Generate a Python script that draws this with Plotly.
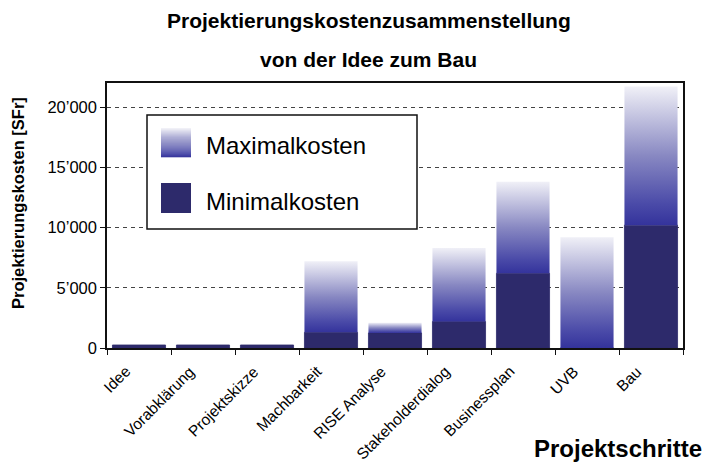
import plotly.graph_objects as go
from plotly.colors import sample_colorscale

categories = ["Idee", "Vorabklärung", "Projektskizze", "Machbarkeit", "RISE Analyse",
              "Stakeholderdialog", "Businessplan", "UVB", "Bau"]
min_cost = [250, 250, 250, 1300, 1250, 2200, 6200, 0, 10200]
max_cost = [250, 250, 250, 7200, 2100, 8300, 13800, 9200, 21700]
y_ticks = [0, 5000, 10000, 15000, 20000]

FONT = "Liberation Sans, Arial, Helvetica, sans-serif"
DARK = "#2d2a6b"
GRAD = [[0.0, "#34339c"], [0.15, "#4a4aa8"], [0.5, "#8888c2"], [1.0, "#f0f0f7"]]
BAR_W = 0.83

xs = list(range(len(categories)))
fig = go.Figure()

fig.add_trace(go.Bar(x=xs, y=min_cost, width=BAR_W, marker=dict(color=DARK, line=dict(width=0.8, color=DARK)),
                     name="Minimalkosten", showlegend=False, hoverinfo="skip"))

for i, (lo, hi) in enumerate(zip(min_cost, max_cost)):
    if hi <= lo:
        continue
    x0, x1 = i - BAR_W / 2, i + BAR_W / 2
    fig.add_trace(go.Scatter(
        x=[x0, x1, x1, x0, x0], y=[lo, lo, hi, hi, lo], mode="lines",
        line=dict(width=0), fill="toself",
        fillgradient=dict(type="vertical", colorscale=GRAD, start=lo, stop=hi),
        showlegend=False, hoverinfo="skip"))

# plot area in pixels: x 107..683, y 83..348
L, R, T, B = 107, 683, 83, 348
W, H = R - L, B - T
def px(x):
    return (x - L) / W
def py(y):
    return (B - y) / H

shapes = []
# legend box
shapes.append(dict(type="rect", xref="paper", yref="paper", x0=px(147), x1=px(417), y0=py(229), y1=py(115),
                   fillcolor="white", line=dict(color="#111111", width=1.5), layer="above"))
# min swatch
shapes.append(dict(type="rect", xref="paper", yref="paper", x0=px(161), x1=px(191), y0=py(213), y1=py(183),
                   fillcolor=DARK, line=dict(width=0), layer="above"))
# gradient swatch made of thin strips
n = 30
top, bot = 128, 157
cols = sample_colorscale(GRAD, [1 - k / (n - 1) for k in range(n)])
for k in range(n):
    ya = top + (bot - top) * k / n
    yb = top + (bot - top) * (k + 1) / n
    shapes.append(dict(type="rect", xref="paper", yref="paper", x0=px(161), x1=px(191),
                       y0=py(yb + 0.3), y1=py(ya), fillcolor=cols[k], line=dict(width=0), layer="above"))

annotations = [
    dict(text="<b>Projektierungskostenzusammenstellung</b>", x=px(369), y=py(20), xref="paper", yref="paper",
         showarrow=False, xanchor="center", yanchor="middle", font=dict(size=21, family=FONT, color="black")),
    dict(text="<b>von der Idee zum Bau</b>", x=px(368), y=py(59), xref="paper", yref="paper",
         showarrow=False, xanchor="center", yanchor="middle", font=dict(size=21, family=FONT, color="black")),
    dict(text="<b>Projektierungskosten [SFr]</b>", x=px(18), y=py(203), xref="paper", yref="paper",
         textangle=-90, showarrow=False, xanchor="center", yanchor="middle",
         font=dict(size=16.5, family=FONT, color="black")),
    dict(text="<b>Projektschritte</b>", x=px(704), y=py(448), xref="paper", yref="paper",
         showarrow=False, xanchor="right", yanchor="middle", font=dict(size=24, family=FONT, color="black")),
    dict(text="Maximalkosten", x=px(204), y=py(145), xref="paper", yref="paper",
         showarrow=False, xanchor="left", yanchor="middle", font=dict(size=24, family=FONT, color="black")),
    dict(text="Minimalkosten", x=px(204), y=py(201), xref="paper", yref="paper",
         showarrow=False, xanchor="left", yanchor="middle", font=dict(size=24, family=FONT, color="black")),
]
# rotated category labels
for i, cat in enumerate(categories):
    annotations.append(dict(text=cat, x=i, y=py(360), xref="x", yref="paper", textangle=-45,
                            showarrow=False, xanchor="right", yanchor="top", xshift=-3,
                            font=dict(size=15.5, family=FONT, color="black")))

fig.update_layout(
    width=706, height=464,
    margin=dict(l=L, r=706 - R, t=T, b=464 - B, autoexpand=False),
    paper_bgcolor="white", plot_bgcolor="white",
    showlegend=False,
    font=dict(family=FONT, color="black"),
    shapes=shapes, annotations=annotations,
    xaxis=dict(
        automargin=False,
        range=[-0.5, len(categories) - 0.5], tickmode="array", tickvals=xs, ticktext=categories,
        showticklabels=False, ticks="",
        showline=True, mirror=True, linecolor="#111111", linewidth=1.5, showgrid=False, zeroline=False,
        minor=dict(tickmode="array", tickvals=[i - 0.5 for i in range(len(categories) + 1)],
                   ticks="outside", ticklen=5, tickcolor="#111111", tickwidth=1.2, showgrid=False),
    ),
    yaxis=dict(
        automargin=False,
        range=[0, 22000], tickmode="array", tickvals=y_ticks,
        ticktext=[f"{v:,}".replace(",", "\u2019") for v in y_ticks],
        ticks="outside", ticklen=5, tickcolor="#111111", tickwidth=1.2,
        tickfont=dict(size=16.5, family=FONT, color="black"),
        showline=True, mirror=True, linecolor="#111111", linewidth=1.5,
        showgrid=True, gridcolor="#444444", gridwidth=1, griddash="4px,4px", zeroline=False,
    ),
)

fig.write_html("out.html", config={"displayModeBar": False},
               post_script="document.body.style.margin='0';document.body.style.padding='0';")
